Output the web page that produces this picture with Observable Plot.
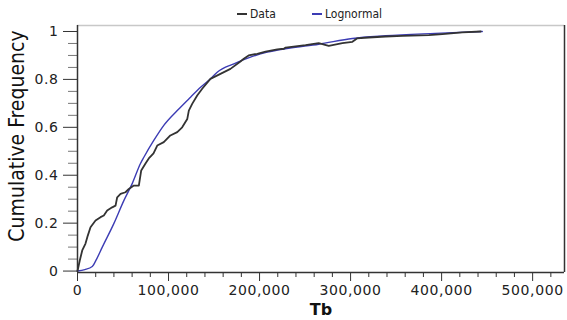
<!DOCTYPE html>
<html>
<head>
<meta charset="utf-8">
<script src="https://cdn.jsdelivr.net/npm/d3@7"></script>
<script src="https://cdn.jsdelivr.net/npm/@observablehq/plot@0.6"></script>
<style>
  html, body { margin: 0; padding: 0; background: #fff; }
  #wrap { position: relative; width: 567px; height: 320px; }
  #legend { position: absolute; top: 7px; left: 0; width: 567px; font-family: "DejaVu Sans Condensed", "DejaVu Sans", sans-serif; font-stretch: condensed; font-size: 12px; color: #222; }
  #legend .item { position: absolute; top: 0; white-space: nowrap; }
  #legend .sw { display: inline-block; width: 10px; height: 2px; vertical-align: middle; margin-right: 3px; position: relative; top: -1px; }
</style>
</head>
<body>
<div id="wrap"></div>
<script>
// Series: empirical cumulative frequency ("Data")
const dataX = [0, 2500, 5200, 8800, 11300, 14300, 19800, 25300, 28900, 32600, 38100, 41800, 43600, 47300, 52700, 56400, 61900, 67400, 70000, 74700, 78300, 83500, 87600, 94800, 102000, 109600, 115000, 120600, 122300, 126000, 131500, 137000, 146000, 157000, 168000, 179000, 182700, 188000, 197500, 206600, 219500, 226700, 228600, 250500, 265000, 276000, 291000, 302000, 307000, 320000, 338500, 357000, 386000, 400800, 422700, 443000];
const dataY = [0, 0.044, 0.086, 0.115, 0.148, 0.183, 0.211, 0.225, 0.232, 0.253, 0.266, 0.273, 0.308, 0.322, 0.329, 0.343, 0.357, 0.357, 0.42, 0.449, 0.47, 0.491, 0.524, 0.538, 0.566, 0.58, 0.6, 0.635, 0.67, 0.698, 0.733, 0.761, 0.802, 0.823, 0.844, 0.875, 0.886, 0.9, 0.907, 0.916, 0.925, 0.928, 0.933, 0.943, 0.951, 0.94, 0.951, 0.957, 0.971, 0.975, 0.979, 0.982, 0.985, 0.989, 0.996, 1.0];
// Series: fitted lognormal CDF ("Lognormal")
const lognX = [0, 8000, 16200, 21000, 27100, 39900, 50900, 60100, 69200, 72900, 83800, 94800, 109600, 124200, 135200, 146000, 153500, 171800, 190000, 208500, 232000, 265000, 302000, 338500, 393000, 444700];
const lognY = [0, 0.006, 0.019, 0.05, 0.099, 0.198, 0.294, 0.365, 0.449, 0.475, 0.545, 0.608, 0.67, 0.726, 0.767, 0.802, 0.83, 0.865, 0.893, 0.914, 0.93, 0.947, 0.971, 0.982, 0.992, 1.0];
// Axis ticks
const xMajor = [0, 100000, 200000, 300000, 400000, 500000];
const xMinor = [20000, 40000, 60000, 80000, 120000, 140000, 160000, 180000, 220000, 240000, 260000, 280000, 320000, 340000, 360000, 380000, 420000, 440000, 460000, 480000, 520000];
const yMajor = [0, 0.2, 0.4, 0.6, 0.8, 1];
const yMinor = [0.05, 0.1, 0.15, 0.25, 0.3, 0.35, 0.45, 0.5, 0.55, 0.65, 0.7, 0.75, 0.85, 0.9, 0.95];
const yTickLabels = ["0", "0.2", "0.4", "0.6", "0.8", "1"];
const seriesNames = ["Data", "Lognormal"];
const seriesColors = ["#333333", "#3c3cb4"];

const dataRows = dataX.map((x, i) => ({x, y: dataY[i]}));
const lognRows = lognX.map((x, i) => ({x, y: lognY[i]}));

const xDomain = [0, 535000];
const yDomain = [-0.006, 1.025];

const chart = Plot.plot({
  width: 567,
  height: 320,
  marginLeft: 77,
  marginRight: 3,
  marginTop: 25,
  marginBottom: 48,
  style: {fontFamily: "DejaVu Sans", fontSize: "14px", color: "#222", background: "#fff"},
  x: {domain: xDomain},
  y: {domain: yDomain},
  marks: [
    Plot.ruleY([yDomain[1]], {stroke: "#c8c8c8", strokeWidth: 1.5}),
    Plot.ruleX([xDomain[1]], {stroke: "#333", strokeWidth: 1.5}),
    Plot.axisX({ticks: xMinor, tickSize: 5, tickFormat: () => "", label: null, stroke: "#333"}),
    Plot.axisX({ticks: xMajor, tickSize: 9, tickPadding: 4, tickFormat: d3.format(","), label: "Tb", labelAnchor: "center", labelArrow: "none", labelOffset: 42, stroke: "#333"}),
    Plot.axisY({ticks: yMinor, tickSize: 9, tickFormat: () => "", label: null, stroke: "#777"}),
    Plot.axisY({ticks: yMajor, tickSize: 14, tickPadding: 5, tickFormat: (d, i) => yTickLabels[i], label: "Cumulative Frequency", labelAnchor: "center", labelArrow: "none", labelOffset: 68, stroke: "#333"}),
    Plot.ruleX([0], {stroke: "#333", strokeWidth: 1.5}),
    Plot.ruleY([yDomain[0]], {stroke: "#333", strokeWidth: 1.5}),
    Plot.line(lognRows, {x: "x", y: "y", stroke: seriesColors[1], strokeWidth: 1.4, curve: "monotone-x"}),
    Plot.line(dataRows, {x: "x", y: "y", stroke: seriesColors[0], strokeWidth: 1.8})
  ]
});

const wrap = document.getElementById("wrap");
wrap.appendChild(chart);

const svg = d3.select(chart);
svg.selectAll('g[aria-label="y-axis label"] text')
  .attr("dx", 13)
  .style("font-family", '"DejaVu Sans Condensed", "DejaVu Sans", sans-serif')
  .style("font-stretch", "condensed")
  .style("font-size", "21px")
  .style("fill", "#111");
svg.selectAll('g[aria-label="x-axis label"] text')
  .style("font-weight", "bold")
  .style("font-size", "16px")
  .style("fill", "#111");
svg.selectAll('g[aria-label="x-axis tick label"] text, g[aria-label="y-axis tick label"] text')
  .style("letter-spacing", "0.6px");

// Legend (above plot frame)
const legend = document.createElement("div");
legend.id = "legend";
const positions = [237, 312];
seriesNames.forEach((name, i) => {
  const item = document.createElement("span");
  item.className = "item";
  item.style.left = positions[i] + "px";
  const sw = document.createElement("span");
  sw.className = "sw";
  sw.style.background = seriesColors[i];
  item.appendChild(sw);
  item.appendChild(document.createTextNode(name));
  legend.appendChild(item);
});
wrap.appendChild(legend);
</script>
</body>
</html>
